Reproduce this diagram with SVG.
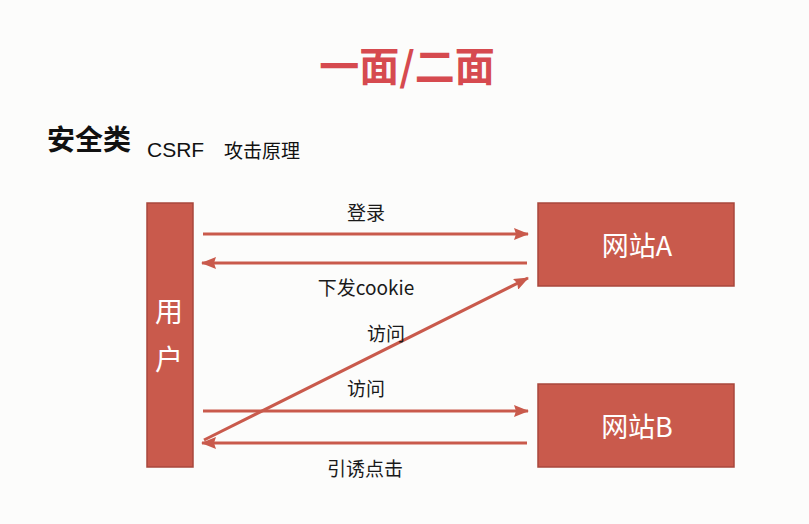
<svg xmlns="http://www.w3.org/2000/svg" width="809" height="524" viewBox="0 0 809 524">
  <style>
    .node { fill: #c95a4c; stroke: #a8473c; stroke-width: 1.5; }
    .node-label { fill: #ffffff; font-family: "Noto Sans CJK SC", "Liberation Sans", sans-serif; text-anchor: middle; }
    .edge { stroke: #c95a4c; stroke-width: 3; fill: none; marker-end: url(#arrow); }
    .edge-label { fill: #1a1a1a; font-family: "Noto Sans CJK SC", "Liberation Sans", sans-serif; font-size: 19px; text-anchor: middle; }
  </style>
  <defs>
    <marker id="arrow" markerWidth="15" markerHeight="12" refX="14" refY="6" orient="auto" markerUnits="userSpaceOnUse">
      <path d="M0,0 L15,6 L0,12 L2,6 Z" fill="#c95a4c"/>
    </marker>
  </defs>
  <rect width="809" height="524" fill="#fcfcfb"/>

  <!-- headings -->
  <text x="407" y="81" font-family="Noto Sans CJK SC, Liberation Sans, sans-serif" font-size="40" font-weight="bold" fill="#d64a4f" text-anchor="middle">一面/二面</text>
  <text x="47" y="150" font-family="Noto Sans CJK SC, Liberation Sans, sans-serif" font-size="28" font-weight="bold" fill="#111">安全类</text>
  <text x="147" y="157" font-family="Liberation Sans, Noto Sans CJK SC, sans-serif" font-size="21" fill="#111">CSRF</text>
  <text x="224" y="158" font-family="Noto Sans CJK SC, Liberation Sans, sans-serif" font-size="19" fill="#111">攻击原理</text>

  <!-- nodes -->
  <g id="user">
    <rect class="node" x="147" y="203" width="46" height="264"/>
    <text class="node-label" x="169" y="322" font-size="28">用</text>
    <text class="node-label" x="169" y="370" font-size="28">户</text>
  </g>
  <g id="siteA">
    <rect class="node" x="538" y="203" width="196" height="83"/>
    <text class="node-label" x="637" y="256" font-size="27">网站A</text>
  </g>
  <g id="siteB">
    <rect class="node" x="538" y="384" width="196" height="83"/>
    <text class="node-label" x="637" y="437" font-size="27">网站B</text>
  </g>

  <!-- connectors -->
  <g id="edges">
    <line class="edge" x1="203" y1="234" x2="528" y2="234"/>
    <line class="edge" x1="527" y1="263" x2="202" y2="263"/>
    <line class="edge" x1="204" y1="440" x2="528" y2="278"/>
    <line class="edge" x1="203" y1="411" x2="528" y2="411"/>
    <line class="edge" x1="527" y1="443" x2="202" y2="443"/>
    <text class="edge-label" x="366" y="220">登录</text>
    <text class="edge-label" x="366" y="295">下发cookie</text>
    <text class="edge-label" x="386" y="341">访问</text>
    <text class="edge-label" x="366" y="396">访问</text>
    <text class="edge-label" x="365" y="476">引诱点击</text>
  </g>
</svg>
